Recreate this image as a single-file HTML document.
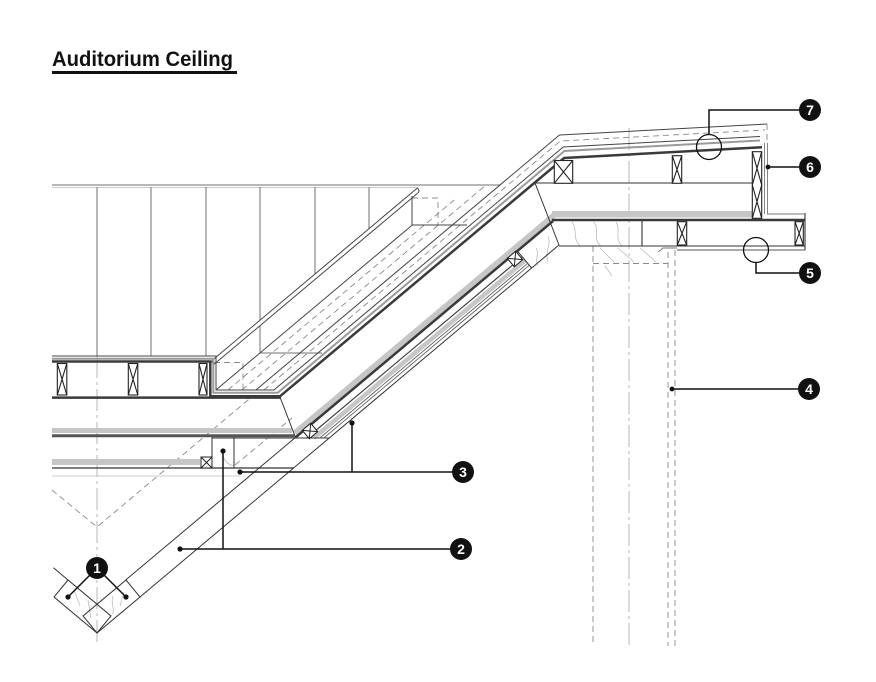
<!DOCTYPE html>
<html><head><meta charset="utf-8"><style>
html,body{margin:0;padding:0;background:#fff;}
svg{display:block;}
</style></head><body>
<svg width="876" height="682" viewBox="0 0 876 682" xmlns="http://www.w3.org/2000/svg" fill="none">
<rect width="876" height="682" fill="#fff"/>

<!-- Title -->
<text x="52" y="66" font-family="Liberation Sans, Arial, sans-serif" font-weight="bold" font-size="21" fill="#111" textLength="181" lengthAdjust="spacingAndGlyphs">Auditorium Ceiling</text>
<rect x="52" y="71" width="185" height="3" fill="#111"/>

<!-- centerlines -->
<g stroke="#b0b0b0" stroke-width="0.9" stroke-dasharray="22 4 3 4">
  <path d="M97,356 V646"/>
  <path d="M629,128 V646"/>
</g>

<!-- light wood grain -->
<g stroke="#bdbdbd" stroke-width="0.8">
  <path d="M572,222 C578,230 572,238 580,246"/>
  <path d="M594,222 C600,231 592,239 601,246"/>
  <path d="M616,222 C621,230 614,238 622,246"/>
  <path d="M548,236 C552,244 544,252 548,262"/>
  <path d="M536,248 C540,254 534,260 538,266"/>
  <path d="M600,248 L614,262"/>
  <path d="M618,248 L634,262"/>
  <path d="M640,248 L656,262"/>
  <path d="M605,266 L612,276"/>
  <path d="M74,590 L80,606"/>
  <path d="M88,600 L91,618"/>
  <path d="M113,596 C110,604 116,610 112,614"/>
  <path d="M124,592 L120,606"/>
  <path d="M222,452 Q224,464 234,466"/>
  <path d="M52,476 H240"/>
  <path d="M52,187.5 H417"/>
</g>

<!-- panel lines -->
<g stroke="#707070" stroke-width="1">
  <path d="M52,185 H500"/>
  <path d="M97,187 V356 M151,187 V356 M206,187 V356 M260,187 V320 M315,187 V274 M369,187 V228.6"/>
  <path d="M260,326 V353 H322"/>
</g>

<!-- dashed hidden lines -->
<g stroke="#8a8a8a" stroke-width="0.9" stroke-dasharray="6 4">
  <path d="M52,490 L97,527 L250.4,398"/>
  <path d="M235,465 L292,418"/>
  <path d="M227.9,390 L454.2,200"/>
  <path d="M241.9,390 L486,185"/>
  <path d="M263.9,390 L560.3,141 L765,130"/>
  <path d="M767,124 V143"/>
  <path d="M214,362.5 H243 V390"/>
  <path d="M412,198 H438 V225"/>
  <path d="M593,246 V646"/>
  <path d="M668,252 V646"/>
  <path d="M675,250 V646"/>
  <path d="M593,263.5 H668"/>
</g>

<!-- gray insulation bands -->
<g fill="#c6c6c6">
  <rect x="52" y="428" width="240" height="5"/>
  <rect x="52" y="459" width="148" height="6"/>
  <rect x="552" y="211" width="200" height="6.5"/>
</g>
<g stroke="#c6c6c6">
  <path d="M294.7,433 L554.2,215" stroke-width="5.5"/>
  <path d="M313.8,438 L525.3,260.3" stroke-width="4.5"/>
</g>

<!-- stair / roof diagonal lines -->
<g stroke="#444" stroke-width="1">
  <path d="M212.6,360 L417.4,188 Q421,191 416.7,194 L214.4,364 Q211,363 212.6,360"/>
  <path d="M215.9,390 L412.3,225"/>
  <path d="M412,196 V225 H467"/>
  <path d="M255.9,390 L559.5,135 L767,124"/>
  <path d="M52,356 H216 V390 H273.9 L563.2,147 L760,136.5"/>
</g>
<path d="M52,358.7 H213.3 V392.7 H277.8 L564.4,151 L760,140.5" stroke="#9a9a9a" stroke-width="2"/>
<path d="M52,361.5 H210.3 V396.3 H280 L564.1,158 L762,147.3" stroke="#3a3a3a" stroke-width="2.5"/>
<path d="M52,397.6 H281" stroke="#3a3a3a" stroke-width="2.5"/>

<!-- floor joists left -->
<g stroke="#222" stroke-width="1.1">
  <rect x="57.3" y="363.5" width="9.5" height="31.5"/>
  <path d="M57.3,363.5 L66.8,395 M66.8,363.5 L57.3,395"/>
  <rect x="128.3" y="363.5" width="9.5" height="31.5"/>
  <path d="M128.3,363.5 L137.8,395 M137.8,363.5 L128.3,395"/>
  <rect x="199" y="363.5" width="8" height="31.5"/>
  <path d="M199,363.5 L207,395 M207,363.5 L199,395"/>
</g>

<!-- joist space / lining -->
<g stroke="#333" stroke-width="1">
  <path d="M280,397 L295.5,437.5"/>
  <path d="M535,183 L559,245"/>
  <path d="M125.7,580 L296,437"/>
  <path d="M140,597 L559,245"/>
  <path d="M517.4,251 L531.6,268"/>
  <path d="M212,438 H329.3"/>
  <path d="M212,437 V468 M234,437 V468"/>
</g>
<path d="M296,437 L553.1,221" stroke="#3a3a3a" stroke-width="2.5"/>
<path d="M306.8,438 L522.3,256.9" stroke="#444" stroke-width="1.2"/>
<g stroke="#666" stroke-width="0.9">
  <path d="M319.8,438 L527.7,263.3"/>
  <path d="M323.8,438 L529.3,265.3"/>
</g>
<g stroke="#222" stroke-width="1" fill="#fff">
  <g transform="translate(310,431) rotate(-40)"><rect x="-5.5" y="-5.5" width="11" height="11"/><path d="M-5.5,-5.5 L5.5,5.5 M5.5,-5.5 L-5.5,5.5"/></g>
  <g transform="translate(515,259) rotate(-40)"><rect x="-5.5" y="-5.5" width="11" height="11"/><path d="M-5.5,-5.5 L5.5,5.5 M5.5,-5.5 L-5.5,5.5"/></g>
</g>

<!-- lower horizontal ceiling -->
<path d="M52,435.8 H295" stroke="#555" stroke-width="3"/>
<path d="M52,468 H294" stroke="#333" stroke-width="1.2"/>
<g stroke="#222" stroke-width="1" fill="#fff">
  <rect x="201" y="457" width="11" height="11"/>
  <path d="M201,457 L212,468 M212,457 L201,468"/>
</g>

<!-- bottom-left boxes -->
<g stroke="#333" stroke-width="1">
  <path d="M97,633 L140,597 L126,580 L83,616 Z"/>
  <path d="M97,633 L54,597 L68,580 L111,616 Z"/>
  <path d="M53.5,567.8 L68,580"/>
</g>

<!-- upper right assembly -->
<path d="M535,183 H752" stroke="#333" stroke-width="1"/>
<path d="M552,220 H805" stroke="#3a3a3a" stroke-width="2.5"/>
<g stroke="#333" stroke-width="1.1">
  <path d="M559,246 H805"/>
  <path d="M642,221 V246"/>
  <path d="M805,213 V250"/>
</g>
<path d="M677,250 H805" stroke="#555" stroke-width="1"/>
<g stroke="#777" stroke-width="0.9">
  <path d="M764.5,143 V214 M767.5,143 V214"/>
  <path d="M767,214 H805"/>
  <path d="M658,252 L663,248 H677"/>
</g>
<g stroke="#222" stroke-width="1.1">
  <rect x="554.3" y="160.5" width="18.4" height="22.8" fill="#fff"/>
  <path d="M554.3,160.5 L572.7,183.3 M572.7,160.5 L554.3,183.3"/>
  <rect x="672.3" y="155.7" width="9.4" height="27.6" fill="#fff"/>
  <path d="M672.3,155.7 L681.7,183.3 M681.7,155.7 L672.3,183.3"/>
  <rect x="752.3" y="151.7" width="9.4" height="66.6" fill="#fff"/>
  <path d="M752.3,151.7 L761.7,185 M761.7,151.7 L752.3,185 M752.3,185 L761.7,218.3 M761.7,185 L752.3,218.3"/>
  <rect x="677.3" y="221.7" width="9.4" height="23.3"/>
  <path d="M677.3,221.7 L686.7,245 M686.7,221.7 L677.3,245"/>
  <rect x="795" y="221.7" width="8.3" height="23.3"/>
  <path d="M795,221.7 L803.3,245 M803.3,221.7 L795,245"/>
</g>

<!-- detail circles -->
<g stroke="#111" stroke-width="1.3">
  <circle cx="709" cy="147" r="12.5"/>
  <circle cx="756" cy="250" r="12.5"/>
</g>

<!-- leaders -->
<g stroke="#111" stroke-width="1.5">
  <path d="M97,568 L68,597 M97,568 L126,597"/>
  <path d="M180,549 H450 M223,451 V549"/>
  <path d="M240,472 H452 M352,423 V472"/>
  <path d="M672,389 H798"/>
  <path d="M756,262.5 V273 H799"/>
  <path d="M768,167 H799"/>
  <path d="M709,134.5 V110 H799"/>
</g>
<g fill="#111">
  <circle cx="68" cy="597" r="2.6"/><circle cx="126" cy="597" r="2.6"/>
  <circle cx="180" cy="549" r="2.6"/><circle cx="223" cy="451" r="2.6"/>
  <circle cx="240" cy="472" r="2.6"/><circle cx="352" cy="423" r="2.6"/>
  <circle cx="672" cy="389" r="2.4"/><circle cx="768" cy="167" r="2.4"/>
  <circle cx="97" cy="568" r="11"/>
  <circle cx="461" cy="549" r="11"/>
  <circle cx="463" cy="472" r="11"/>
  <circle cx="809" cy="389" r="11"/>
  <circle cx="810" cy="273" r="11"/>
  <circle cx="810" cy="167" r="11"/>
  <circle cx="810" cy="110" r="11"/>
</g>
<g font-family="Liberation Sans, Arial, sans-serif" font-weight="bold" font-size="14" fill="#fff" text-anchor="middle">
  <text x="97" y="573">1</text>
  <text x="461" y="554">2</text>
  <text x="463" y="477">3</text>
  <text x="809" y="394">4</text>
  <text x="810" y="278">5</text>
  <text x="810" y="172">6</text>
  <text x="810" y="115">7</text>
</g>
</svg>
</body></html>
